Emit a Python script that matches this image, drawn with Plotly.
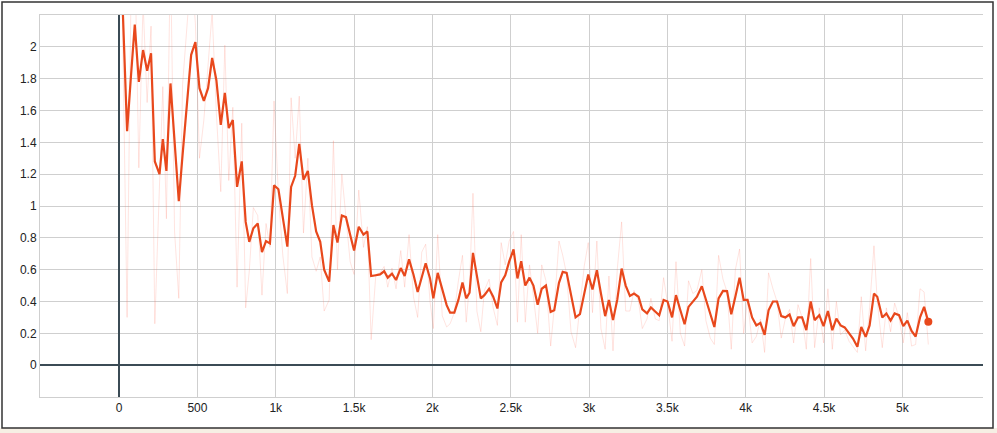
import plotly.graph_objects as go

steps = [10, 51, 76, 100, 126, 153, 179, 204, 228, 258, 279, 302, 328, 354, 381, 405, 428, 460, 487, 513,
         541, 568, 594, 621, 649, 675, 700, 726, 753, 783, 808, 831, 857, 885, 912, 938, 963, 989, 1017, 1045,
         1074, 1098, 1124, 1150, 1177, 1205, 1231, 1258, 1284, 1309, 1341, 1368, 1394, 1422, 1448, 1475, 1500, 1530, 1560, 1585,
         1609, 1639, 1666, 1692, 1715, 1742, 1768, 1798, 1823, 1851, 1879, 1906, 1932, 1957, 1985, 2006, 2034, 2063, 2091, 2113,
         2140, 2166, 2192, 2216, 2237, 2259, 2284, 2309, 2332, 2362, 2388, 2415, 2439, 2465, 2490, 2518, 2543, 2567, 2593, 2620,
         2645, 2672, 2698, 2725, 2755, 2778, 2808, 2832, 2857, 2885, 2914, 2942, 2969, 2995, 3022, 3050, 3076, 3103, 3127, 3153,
         3180, 3208, 3234, 3261, 3287, 3316, 3340, 3370, 3395, 3423, 3448, 3476, 3501, 3530, 3555, 3583, 3610, 3635, 3663, 3689,
         3720, 3746, 3774, 3800, 3827, 3855, 3881, 3908, 3934, 3961, 3987, 4012, 4041, 4068, 4094, 4121, 4146, 4174, 4200, 4227,
         4253, 4280, 4306, 4334, 4360, 4387, 4415, 4440, 4470, 4497, 4525, 4553, 4579, 4606, 4632, 4660, 4685, 4713, 4738, 4766,
         4791, 4819, 4840, 4872, 4898, 4925, 4951, 4979, 5006, 5032, 5059, 5085, 5113, 5139, 5166]

smoothed = [2.60, 1.47, 1.82, 2.14, 1.78, 1.98, 1.85, 1.96, 1.28, 1.20, 1.42, 1.22, 1.77, 1.40, 1.03, 1.32, 1.60, 1.95, 2.03, 1.74,
            1.66, 1.74, 1.93, 1.79, 1.51, 1.71, 1.49, 1.54, 1.12, 1.28, 0.90, 0.775, 0.86, 0.89, 0.71, 0.78, 0.765, 1.13, 1.105, 0.94,
            0.745, 1.12, 1.19, 1.39, 1.165, 1.22, 1.005, 0.84, 0.775, 0.60, 0.525, 0.88, 0.77, 0.94, 0.93, 0.82, 0.72, 0.87, 0.82, 0.84,
            0.56, 0.565, 0.57, 0.59, 0.55, 0.575, 0.535, 0.61, 0.56, 0.665, 0.57, 0.46, 0.56, 0.64, 0.545, 0.42, 0.58, 0.47, 0.377, 0.33,
            0.33, 0.41, 0.52, 0.42, 0.455, 0.705, 0.56, 0.42, 0.44, 0.48, 0.43, 0.356, 0.52, 0.565, 0.65, 0.727, 0.545, 0.653, 0.50, 0.55,
            0.50, 0.38, 0.48, 0.50, 0.335, 0.345, 0.517, 0.586, 0.58, 0.43, 0.30, 0.32, 0.44, 0.57, 0.475, 0.597, 0.45, 0.308, 0.41, 0.283,
            0.41, 0.607, 0.50, 0.435, 0.45, 0.43, 0.35, 0.325, 0.362, 0.335, 0.314, 0.41, 0.40, 0.30, 0.44, 0.345, 0.257, 0.366, 0.40, 0.43,
            0.496, 0.41, 0.314, 0.24, 0.42, 0.467, 0.465, 0.32, 0.43, 0.55, 0.41, 0.41, 0.30, 0.25, 0.266, 0.19, 0.345, 0.40, 0.40, 0.308,
            0.30, 0.318, 0.245, 0.30, 0.30, 0.22, 0.40, 0.283, 0.314, 0.245, 0.34, 0.22, 0.293, 0.25, 0.237, 0.20, 0.167, 0.115, 0.24, 0.178,
            0.25, 0.45, 0.43, 0.30, 0.325, 0.28, 0.325, 0.314, 0.245, 0.28, 0.215, 0.18, 0.30, 0.366, 0.272]

raw = [2.90, 0.30, 2.35, 2.62, 1.24, 2.28, 1.65, 2.13, 0.26, 1.08, 1.75, 0.92, 2.60, 0.84, 0.42, 1.76, 2.02, 2.48, 2.15, 1.30,
       1.54, 1.86, 2.22, 1.58, 1.09, 2.01, 1.16, 1.62, 0.49, 1.52, 0.36, 0.59, 0.99, 0.94, 0.44, 0.89, 0.74, 1.66, 1.07, 0.69,
       0.45, 1.68, 1.30, 1.69, 0.83, 1.30, 0.68, 0.59, 0.68, 0.34, 0.41, 1.41, 0.60, 1.20, 0.91, 0.65, 0.57, 1.10, 0.74, 0.87,
       0.16, 0.57, 0.58, 0.62, 0.49, 0.61, 0.48, 0.72, 0.49, 0.82, 0.43, 0.30, 0.71, 0.76, 0.40, 0.23, 0.82, 0.31, 0.24, 0.26,
       0.33, 0.53, 0.69, 0.27, 0.51, 1.08, 0.34, 0.21, 0.47, 0.54, 0.36, 0.25, 0.77, 0.63, 0.78, 0.84, 0.27, 0.82, 0.27, 0.63,
       0.43, 0.20, 0.63, 0.53, 0.12, 0.36, 0.78, 0.69, 0.57, 0.21, 0.11, 0.35, 0.62, 0.77, 0.33, 0.78, 0.23, 0.10, 0.56, 0.09,
       0.60, 0.90, 0.34, 0.34, 0.47, 0.40, 0.23, 0.29, 0.42, 0.29, 0.28, 0.55, 0.39, 0.15, 0.65, 0.20, 0.12, 0.53, 0.45, 0.47,
       0.60, 0.28, 0.17, 0.13, 0.69, 0.54, 0.46, 0.10, 0.60, 0.73, 0.20, 0.41, 0.14, 0.18, 0.29, 0.08, 0.58, 0.48, 0.40, 0.17,
       0.29, 0.35, 0.14, 0.38, 0.30, 0.10, 0.67, 0.11, 0.36, 0.14, 0.48, 0.10, 0.40, 0.19, 0.22, 0.15, 0.12, 0.08, 0.43, 0.09,
       0.36, 0.75, 0.40, 0.11, 0.36, 0.21, 0.39, 0.30, 0.14, 0.33, 0.12, 0.13, 0.48, 0.46, 0.13]

x_tickvals = [-500, 0, 500, 1000, 1500, 2000, 2500, 3000, 3500, 4000, 4500, 5000]
x_ticktext = ["", "0", "500", "1k", "1.5k", "2k", "2.5k", "3k", "3.5k", "4k", "4.5k", "5k"]
y_tickvals = [-0.2, 0, 0.2, 0.4, 0.6, 0.8, 1, 1.2, 1.4, 1.6, 1.8, 2, 2.2]
y_ticktext = ["", "0", "0.2", "0.4", "0.6", "0.8", "1", "1.2", "1.4", "1.6", "1.8", "2", ""]

line_color = "#e8481c"
grid_color = "#cfcfcf"

fig = go.Figure()
fig.add_trace(go.Scatter(x=steps, y=raw, mode="lines",
                         line=dict(color="rgba(255,120,100,0.2)", width=1),
                         hoverinfo="skip", showlegend=False))
fig.add_trace(go.Scatter(x=steps, y=smoothed, mode="lines",
                         line=dict(color=line_color, width=2.2),
                         showlegend=False))
fig.add_trace(go.Scatter(x=[steps[-1]], y=[smoothed[-1]], mode="markers",
                         marker=dict(color=line_color, size=8),
                         showlegend=False))

axis_font = dict(family="Liberation Sans, Arial, sans-serif", size=12, color="#222")

fig.update_xaxes(range=[-505, 5515], tickvals=x_tickvals, ticktext=x_ticktext,
                 showgrid=True, gridcolor=grid_color, gridwidth=1,
                 zeroline=True, zerolinecolor="#3b4b55", zerolinewidth=2,
                 ticks="", tickfont=axis_font, fixedrange=True,
                 showline=True, linecolor=grid_color, linewidth=1, mirror=True,
                 automargin=False)
fig.update_yaxes(range=[-0.2, 2.2], tickvals=y_tickvals, ticktext=y_ticktext,
                 showgrid=True, gridcolor=grid_color, gridwidth=1,
                 zeroline=True, zerolinecolor="#3b4b55", zerolinewidth=2,
                 ticks="", tickfont=axis_font, fixedrange=True,
                 showline=True, linecolor=grid_color, linewidth=1, mirror=False,
                 automargin=False)

# outer frame around the whole picture
W, H = 997, 433
ml, mr, mt, mb = 40, 14, 15, 36
pw, ph = W - ml - mr, H - mt - mb

def px_x(p):
    return (p - ml) / pw

def px_y(p):
    return (H - mb - p) / ph

fig.add_shape(type="rect", xref="paper", yref="paper",
              x0=px_x(-5), x1=px_x(W + 5), y0=px_y(428), y1=px_y(H + 5),
              line=dict(width=0), fillcolor="#f6efe4", layer="below")
fig.add_shape(type="rect", xref="paper", yref="paper",
              x0=px_x(2), x1=px_x(993), y0=px_y(428), y1=px_y(2),
              line=dict(color="#333", width=1.5), fillcolor="rgba(0,0,0,0)")

fig.update_layout(width=W, height=H, margin=dict(l=ml, r=mr, t=mt, b=mb),
                  paper_bgcolor="white", plot_bgcolor="white",
                  showlegend=False)

fig.write_html("out.html", config={"displayModeBar": False},
               post_script="document.body.style.margin='0';document.body.style.overflow='hidden';")
